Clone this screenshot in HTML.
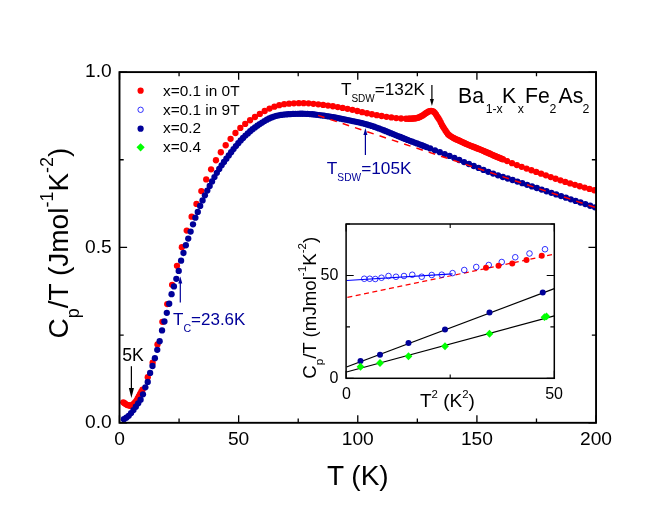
<!DOCTYPE html><html><head><meta charset="utf-8"><title>fig</title><style>html,body{margin:0;padding:0;background:#fff}svg{display:block;will-change:transform}text{font-family:"Liberation Sans",sans-serif}</style></head><body>
<svg width="664" height="528" viewBox="0 0 664 528">
<rect width="664" height="528" fill="#fff"/>
<defs><clipPath id="cm"><rect x="119.5" y="72.1" width="476.55" height="350.70"/></clipPath><clipPath id="ci"><rect x="346.1" y="224" width="208.2" height="154.3"/></clipPath></defs>
<g clip-path="url(#cm)">
<g fill="#ff0000"><circle cx="123.30" cy="402.33" r="3.15"/><circle cx="124.50" cy="403.20" r="3.15"/><circle cx="125.70" cy="404.10" r="3.15"/><circle cx="126.90" cy="404.81" r="3.15"/><circle cx="128.10" cy="405.15" r="3.15"/><circle cx="129.30" cy="405.48" r="3.15"/><circle cx="130.50" cy="405.82" r="3.15"/><circle cx="131.70" cy="405.33" r="3.15"/><circle cx="132.90" cy="404.58" r="3.15"/><circle cx="134.10" cy="403.48" r="3.15"/><circle cx="135.30" cy="402.04" r="3.15"/><circle cx="136.50" cy="400.60" r="3.15"/><circle cx="137.70" cy="398.33" r="3.15"/><circle cx="138.90" cy="396.05" r="3.15"/><circle cx="140.10" cy="393.78" r="3.15"/><circle cx="141.30" cy="391.72" r="3.15"/><circle cx="142.50" cy="389.71" r="3.15"/><circle cx="147.75" cy="377.25" r="3.15"/><circle cx="152.62" cy="362.63" r="3.15"/><circle cx="157.49" cy="344.42" r="3.15"/><circle cx="162.37" cy="321.85" r="3.15"/><circle cx="167.24" cy="304.06" r="3.15"/><circle cx="172.11" cy="284.82" r="3.15"/><circle cx="176.98" cy="265.82" r="3.15"/><circle cx="181.85" cy="247.14" r="3.15"/><circle cx="186.73" cy="230.60" r="3.15"/><circle cx="191.60" cy="216.68" r="3.15"/><circle cx="196.47" cy="203.89" r="3.15"/><circle cx="201.34" cy="191.10" r="3.15"/><circle cx="206.21" cy="179.47" r="3.15"/><circle cx="211.09" cy="169.28" r="3.15"/><circle cx="215.96" cy="160.23" r="3.15"/><circle cx="220.83" cy="152.25" r="3.15"/><circle cx="225.70" cy="145.25" r="3.15"/><circle cx="230.57" cy="138.83" r="3.15"/><circle cx="235.45" cy="132.98" r="3.15"/><circle cx="240.32" cy="127.94" r="3.15"/><circle cx="245.19" cy="123.88" r="3.15"/><circle cx="250.06" cy="120.24" r="3.15"/><circle cx="254.93" cy="117.01" r="3.15"/><circle cx="259.81" cy="113.89" r="3.15"/><circle cx="264.68" cy="111.02" r="3.15"/><circle cx="269.55" cy="108.62" r="3.15"/><circle cx="274.42" cy="106.69" r="3.15"/><circle cx="279.29" cy="105.17" r="3.15"/><circle cx="284.17" cy="104.20" r="3.15"/><circle cx="289.04" cy="103.66" r="3.15"/><circle cx="293.91" cy="103.37" r="3.15"/><circle cx="298.78" cy="103.18" r="3.15"/><circle cx="303.65" cy="103.16" r="3.15"/><circle cx="308.53" cy="103.36" r="3.15"/><circle cx="313.40" cy="103.78" r="3.15"/><circle cx="318.27" cy="104.34" r="3.15"/><circle cx="323.14" cy="104.96" r="3.15"/><circle cx="328.01" cy="105.57" r="3.15"/><circle cx="332.89" cy="106.27" r="3.15"/><circle cx="337.76" cy="107.07" r="3.15"/><circle cx="342.63" cy="107.96" r="3.15"/><circle cx="347.50" cy="108.85" r="3.15"/><circle cx="352.37" cy="109.80" r="3.15"/><circle cx="357.25" cy="110.98" r="3.15"/><circle cx="362.12" cy="112.22" r="3.15"/><circle cx="366.99" cy="113.25" r="3.15"/><circle cx="371.86" cy="114.24" r="3.15"/><circle cx="376.73" cy="115.14" r="3.15"/><circle cx="381.61" cy="116.00" r="3.15"/><circle cx="386.48" cy="116.78" r="3.15"/><circle cx="391.35" cy="117.44" r="3.15"/><circle cx="396.22" cy="118.05" r="3.15"/><circle cx="401.09" cy="118.48" r="3.15"/><circle cx="405.97" cy="118.75" r="3.15"/><circle cx="408.37" cy="118.76" r="3.15"/><circle cx="409.57" cy="118.72" r="3.15"/><circle cx="410.77" cy="118.66" r="3.15"/><circle cx="411.97" cy="118.58" r="3.15"/><circle cx="413.17" cy="118.51" r="3.15"/><circle cx="414.37" cy="118.43" r="3.15"/><circle cx="415.57" cy="118.32" r="3.15"/><circle cx="416.77" cy="118.09" r="3.15"/><circle cx="417.97" cy="117.70" r="3.15"/><circle cx="419.17" cy="117.28" r="3.15"/><circle cx="420.37" cy="116.76" r="3.15"/><circle cx="421.57" cy="116.11" r="3.15"/><circle cx="422.77" cy="115.38" r="3.15"/><circle cx="423.97" cy="114.54" r="3.15"/><circle cx="425.17" cy="113.70" r="3.15"/><circle cx="426.37" cy="112.88" r="3.15"/><circle cx="427.57" cy="112.12" r="3.15"/><circle cx="428.77" cy="111.49" r="3.15"/><circle cx="429.97" cy="111.04" r="3.15"/><circle cx="431.17" cy="110.87" r="3.15"/><circle cx="432.37" cy="111.09" r="3.15"/><circle cx="433.57" cy="111.72" r="3.15"/><circle cx="434.77" cy="112.80" r="3.15"/><circle cx="435.97" cy="114.46" r="3.15"/><circle cx="437.17" cy="116.39" r="3.15"/><circle cx="438.37" cy="118.20" r="3.15"/><circle cx="439.57" cy="120.03" r="3.15"/><circle cx="440.77" cy="122.41" r="3.15"/><circle cx="441.97" cy="124.89" r="3.15"/><circle cx="443.17" cy="126.95" r="3.15"/><circle cx="444.37" cy="128.86" r="3.15"/><circle cx="445.57" cy="130.67" r="3.15"/><circle cx="446.77" cy="132.38" r="3.15"/><circle cx="447.97" cy="134.13" r="3.15"/><circle cx="449.17" cy="135.13" r="3.15"/><circle cx="450.37" cy="136.03" r="3.15"/><circle cx="451.57" cy="136.82" r="3.15"/><circle cx="452.77" cy="137.56" r="3.15"/><circle cx="453.97" cy="138.23" r="3.15"/><circle cx="455.17" cy="138.84" r="3.15"/><circle cx="456.37" cy="139.42" r="3.15"/><circle cx="457.57" cy="139.95" r="3.15"/><circle cx="458.77" cy="140.47" r="3.15"/><circle cx="459.97" cy="140.99" r="3.15"/><circle cx="461.17" cy="141.56" r="3.15"/><circle cx="462.37" cy="142.12" r="3.15"/><circle cx="463.57" cy="142.69" r="3.15"/><circle cx="464.77" cy="143.25" r="3.15"/><circle cx="465.97" cy="143.81" r="3.15"/><circle cx="467.17" cy="144.31" r="3.15"/><circle cx="468.37" cy="144.80" r="3.15"/><circle cx="469.57" cy="145.30" r="3.15"/><circle cx="470.77" cy="145.80" r="3.15"/><circle cx="471.97" cy="146.30" r="3.15"/><circle cx="473.17" cy="146.76" r="3.15"/><circle cx="474.37" cy="147.22" r="3.15"/><circle cx="475.57" cy="147.69" r="3.15"/><circle cx="476.77" cy="148.16" r="3.15"/><circle cx="477.97" cy="148.63" r="3.15"/><circle cx="479.17" cy="149.12" r="3.15"/><circle cx="480.37" cy="149.62" r="3.15"/><circle cx="481.57" cy="150.11" r="3.15"/><circle cx="482.77" cy="150.61" r="3.15"/><circle cx="483.97" cy="151.11" r="3.15"/><circle cx="485.17" cy="151.64" r="3.15"/><circle cx="486.37" cy="152.17" r="3.15"/><circle cx="487.57" cy="152.71" r="3.15"/><circle cx="488.77" cy="153.24" r="3.15"/><circle cx="489.97" cy="153.76" r="3.15"/><circle cx="491.17" cy="154.32" r="3.15"/><circle cx="492.37" cy="154.86" r="3.15"/><circle cx="493.57" cy="155.39" r="3.15"/><circle cx="494.77" cy="155.90" r="3.15"/><circle cx="495.97" cy="156.40" r="3.15"/><circle cx="497.17" cy="156.91" r="3.15"/><circle cx="498.37" cy="157.41" r="3.15"/><circle cx="499.57" cy="157.91" r="3.15"/><circle cx="500.77" cy="158.41" r="3.15"/><circle cx="501.97" cy="158.91" r="3.15"/><circle cx="503.17" cy="159.41" r="3.15"/><circle cx="507.17" cy="161.08" r="3.15"/><circle cx="512.01" cy="163.17" r="3.15"/><circle cx="516.85" cy="165.12" r="3.15"/><circle cx="521.69" cy="166.85" r="3.15"/><circle cx="526.53" cy="168.56" r="3.15"/><circle cx="531.37" cy="170.26" r="3.15"/><circle cx="536.21" cy="171.96" r="3.15"/><circle cx="541.05" cy="173.67" r="3.15"/><circle cx="545.89" cy="175.37" r="3.15"/><circle cx="550.73" cy="177.07" r="3.15"/><circle cx="555.57" cy="178.73" r="3.15"/><circle cx="560.41" cy="180.36" r="3.15"/><circle cx="565.25" cy="181.94" r="3.15"/><circle cx="570.09" cy="183.40" r="3.15"/><circle cx="574.93" cy="184.83" r="3.15"/><circle cx="579.77" cy="186.23" r="3.15"/><circle cx="584.61" cy="187.59" r="3.15"/><circle cx="589.45" cy="188.94" r="3.15"/><circle cx="594.29" cy="190.27" r="3.15"/><circle cx="599.13" cy="191.47" r="3.15"/></g>
<g fill="#000099"><circle cx="123.91" cy="419.22" r="3.15"/><circle cx="126.29" cy="417.72" r="3.15"/><circle cx="128.67" cy="415.78" r="3.15"/><circle cx="131.06" cy="413.05" r="3.15"/><circle cx="133.44" cy="410.07" r="3.15"/><circle cx="135.82" cy="406.75" r="3.15"/><circle cx="138.20" cy="403.28" r="3.15"/><circle cx="140.59" cy="399.73" r="3.15"/><circle cx="142.97" cy="394.30" r="3.15"/><circle cx="145.35" cy="387.30" r="3.15"/><circle cx="147.74" cy="381.93" r="3.15"/><circle cx="150.12" cy="372.93" r="3.15"/><circle cx="152.50" cy="366.00" r="3.15"/><circle cx="154.88" cy="358.13" r="3.15"/><circle cx="157.27" cy="349.82" r="3.15"/><circle cx="159.65" cy="341.23" r="3.15"/><circle cx="162.03" cy="330.38" r="3.15"/><circle cx="164.41" cy="321.49" r="3.15"/><circle cx="166.80" cy="312.82" r="3.15"/><circle cx="169.18" cy="303.76" r="3.15"/><circle cx="171.56" cy="294.22" r="3.15"/><circle cx="173.95" cy="286.38" r="3.15"/><circle cx="176.33" cy="278.80" r="3.15"/><circle cx="178.71" cy="270.88" r="3.15"/><circle cx="181.09" cy="260.70" r="3.15"/><circle cx="183.48" cy="252.99" r="3.15"/><circle cx="185.86" cy="245.24" r="3.15"/><circle cx="188.24" cy="238.55" r="3.15"/><circle cx="190.63" cy="231.61" r="3.15"/><circle cx="193.01" cy="224.28" r="3.15"/><circle cx="195.39" cy="217.66" r="3.15"/><circle cx="197.77" cy="211.94" r="3.15"/><circle cx="200.16" cy="205.95" r="3.15"/><circle cx="202.54" cy="200.43" r="3.15"/><circle cx="204.92" cy="195.37" r="3.15"/><circle cx="207.30" cy="190.62" r="3.15"/><circle cx="209.69" cy="186.01" r="3.15"/><circle cx="212.07" cy="181.46" r="3.15"/><circle cx="214.45" cy="177.04" r="3.15"/><circle cx="216.84" cy="172.85" r="3.15"/><circle cx="219.22" cy="168.92" r="3.15"/><circle cx="221.60" cy="165.28" r="3.15"/><circle cx="223.98" cy="161.90" r="3.15"/><circle cx="226.37" cy="158.66" r="3.15"/><circle cx="228.75" cy="155.43" r="3.15"/><circle cx="231.13" cy="152.23" r="3.15"/><circle cx="233.51" cy="149.07" r="3.15"/><circle cx="235.90" cy="146.03" r="3.15"/><circle cx="238.28" cy="143.15" r="3.15"/><circle cx="240.66" cy="140.47" r="3.15"/><circle cx="243.05" cy="137.98" r="3.15"/><circle cx="245.43" cy="135.62" r="3.15"/><circle cx="247.81" cy="133.38" r="3.15"/><circle cx="250.19" cy="131.26" r="3.15"/><circle cx="252.58" cy="129.27" r="3.15"/><circle cx="254.96" cy="127.41" r="3.15"/><circle cx="257.34" cy="125.69" r="3.15"/><circle cx="259.72" cy="124.07" r="3.15"/><circle cx="262.11" cy="122.53" r="3.15"/><circle cx="264.49" cy="121.05" r="3.15"/><circle cx="266.87" cy="119.69" r="3.15"/><circle cx="269.26" cy="118.47" r="3.15"/><circle cx="271.64" cy="117.41" r="3.15"/><circle cx="274.02" cy="116.53" r="3.15"/><circle cx="276.40" cy="115.85" r="3.15"/><circle cx="278.79" cy="115.31" r="3.15"/><circle cx="281.17" cy="114.92" r="3.15"/><circle cx="283.55" cy="114.62" r="3.15"/><circle cx="285.94" cy="114.39" r="3.15"/><circle cx="288.32" cy="114.21" r="3.15"/><circle cx="290.70" cy="114.06" r="3.15"/><circle cx="293.08" cy="113.94" r="3.15"/><circle cx="295.47" cy="113.85" r="3.15"/><circle cx="297.85" cy="113.78" r="3.15"/><circle cx="300.23" cy="113.74" r="3.15"/><circle cx="302.61" cy="113.75" r="3.15"/><circle cx="305.00" cy="113.80" r="3.15"/><circle cx="307.38" cy="113.92" r="3.15"/><circle cx="309.76" cy="114.07" r="3.15"/><circle cx="312.15" cy="114.27" r="3.15"/><circle cx="314.53" cy="114.51" r="3.15"/><circle cx="316.91" cy="114.78" r="3.15"/><circle cx="319.29" cy="115.07" r="3.15"/><circle cx="321.68" cy="115.38" r="3.15"/><circle cx="324.06" cy="115.70" r="3.15"/><circle cx="326.44" cy="116.05" r="3.15"/><circle cx="328.82" cy="116.43" r="3.15"/><circle cx="331.21" cy="116.84" r="3.15"/><circle cx="333.59" cy="117.27" r="3.15"/><circle cx="335.97" cy="117.72" r="3.15"/><circle cx="338.36" cy="118.18" r="3.15"/><circle cx="340.74" cy="118.65" r="3.15"/><circle cx="343.12" cy="119.13" r="3.15"/><circle cx="345.50" cy="119.61" r="3.15"/><circle cx="347.89" cy="120.11" r="3.15"/><circle cx="350.27" cy="120.61" r="3.15"/><circle cx="352.65" cy="121.10" r="3.15"/><circle cx="355.03" cy="121.58" r="3.15"/><circle cx="357.42" cy="122.05" r="3.15"/><circle cx="359.80" cy="122.56" r="3.15"/><circle cx="362.18" cy="123.16" r="3.15"/><circle cx="364.57" cy="123.82" r="3.15"/><circle cx="366.95" cy="124.50" r="3.15"/><circle cx="369.33" cy="125.20" r="3.15"/><circle cx="371.71" cy="125.93" r="3.15"/><circle cx="374.10" cy="126.73" r="3.15"/><circle cx="376.48" cy="127.59" r="3.15"/><circle cx="378.86" cy="128.47" r="3.15"/><circle cx="381.25" cy="129.36" r="3.15"/><circle cx="383.63" cy="130.26" r="3.15"/><circle cx="386.01" cy="131.19" r="3.15"/><circle cx="388.39" cy="132.15" r="3.15"/><circle cx="390.78" cy="133.13" r="3.15"/><circle cx="393.16" cy="134.11" r="3.15"/><circle cx="395.54" cy="135.09" r="3.15"/><circle cx="397.92" cy="136.06" r="3.15"/><circle cx="400.31" cy="137.02" r="3.15"/><circle cx="402.69" cy="137.98" r="3.15"/><circle cx="405.07" cy="138.93" r="3.15"/><circle cx="407.46" cy="139.88" r="3.15"/><circle cx="409.84" cy="140.81" r="3.15"/><circle cx="412.22" cy="141.71" r="3.15"/><circle cx="414.60" cy="142.59" r="3.15"/><circle cx="416.99" cy="143.47" r="3.15"/><circle cx="419.37" cy="144.35" r="3.15"/><circle cx="421.75" cy="145.24" r="3.15"/><circle cx="424.13" cy="146.15" r="3.15"/><circle cx="426.52" cy="147.07" r="3.15"/><circle cx="430.12" cy="148.44" r="3.15"/><circle cx="434.97" cy="150.29" r="3.15"/><circle cx="439.82" cy="152.15" r="3.15"/><circle cx="444.67" cy="154.03" r="3.15"/><circle cx="449.52" cy="155.94" r="3.15"/><circle cx="454.37" cy="157.95" r="3.15"/><circle cx="459.22" cy="160.01" r="3.15"/><circle cx="464.07" cy="162.03" r="3.15"/><circle cx="468.92" cy="164.02" r="3.15"/><circle cx="473.77" cy="165.99" r="3.15"/><circle cx="478.62" cy="167.95" r="3.15"/><circle cx="483.47" cy="169.89" r="3.15"/><circle cx="488.32" cy="171.78" r="3.15"/><circle cx="493.17" cy="173.59" r="3.15"/><circle cx="498.02" cy="175.35" r="3.15"/><circle cx="502.87" cy="176.98" r="3.15"/><circle cx="507.72" cy="178.50" r="3.15"/><circle cx="512.57" cy="180.02" r="3.15"/><circle cx="517.42" cy="181.58" r="3.15"/><circle cx="522.27" cy="183.18" r="3.15"/><circle cx="527.12" cy="184.79" r="3.15"/><circle cx="531.97" cy="186.40" r="3.15"/><circle cx="536.82" cy="188.01" r="3.15"/><circle cx="541.67" cy="189.62" r="3.15"/><circle cx="546.52" cy="191.23" r="3.15"/><circle cx="551.37" cy="192.84" r="3.15"/><circle cx="556.22" cy="194.45" r="3.15"/><circle cx="561.07" cy="196.07" r="3.15"/><circle cx="565.92" cy="197.68" r="3.15"/><circle cx="570.77" cy="199.29" r="3.15"/><circle cx="575.62" cy="200.90" r="3.15"/><circle cx="580.47" cy="202.51" r="3.15"/><circle cx="585.32" cy="204.12" r="3.15"/><circle cx="590.17" cy="205.73" r="3.15"/><circle cx="595.02" cy="207.33" r="3.15"/><circle cx="599.87" cy="208.64" r="3.15"/></g>
<line x1="318.1" y1="115.40" x2="598" y2="208.33" stroke="#ff0000" stroke-width="1.5" stroke-dasharray="6.75 6.2"/>
</g>
<rect x="119.5" y="72.1" width="476.55" height="350.70" fill="none" stroke="#000" stroke-width="1.9"/>
<path d="M119.50 422.8v-7.6M119.50 72.1v7.6M179.07 422.8v-4.2M179.07 72.1v4.2M238.64 422.8v-7.6M238.64 72.1v7.6M298.21 422.8v-4.2M298.21 72.1v4.2M357.77 422.8v-7.6M357.77 72.1v7.6M417.34 422.8v-4.2M417.34 72.1v4.2M476.91 422.8v-7.6M476.91 72.1v7.6M536.48 422.8v-4.2M536.48 72.1v4.2M596.05 422.8v-7.6M596.05 72.1v7.6M119.5 422.80h7.6M596.05 422.80h-7.6M119.5 335.12h4.2M596.05 335.12h-4.2M119.5 247.45h7.6M596.05 247.45h-7.6M119.5 159.77h4.2M596.05 159.77h-4.2M119.5 72.10h7.6M596.05 72.10h-7.6" stroke="#000" stroke-width="1.3" fill="none"/>
<text x="119.50" y="445.3" font-size="19.2" text-anchor="middle">0</text>
<text x="238.64" y="445.3" font-size="19.2" text-anchor="middle">50</text>
<text x="357.77" y="445.3" font-size="19.2" text-anchor="middle">100</text>
<text x="476.91" y="445.3" font-size="19.2" text-anchor="middle">150</text>
<text x="596.05" y="445.3" font-size="19.2" text-anchor="middle">200</text>
<text x="111.7" y="428.00" font-size="19.2" text-anchor="end">0.0</text>
<text x="111.7" y="252.65" font-size="19.2" text-anchor="end">0.5</text>
<text x="111.7" y="77.30" font-size="19.2" text-anchor="end">1.0</text>
<text x="357.8" y="485.3" font-size="28" text-anchor="middle">T (K)</text>
<text transform="translate(67.8,243) rotate(-90)" font-size="28" text-anchor="middle">C<tspan font-size="18" dy="11">p</tspan><tspan dy="-11">/T (Jmol</tspan><tspan font-size="18" dy="-14.6">-1</tspan><tspan dy="14.6">K</tspan><tspan font-size="18" dy="-14.6">-2</tspan><tspan dy="14.6">)</tspan></text>
<text x="163.0" y="95.7" font-size="15.4">x=0.1 in 0T</text>
<text x="163.0" y="114.5" font-size="15.4">x=0.1 in 9T</text>
<text x="163.0" y="133.3" font-size="15.4">x=0.2</text>
<text x="163.0" y="152.1" font-size="15.4">x=0.4</text>
<circle cx="140.6" cy="90.7" r="3.1" fill="#ff0000"/>
<circle cx="140.6" cy="109.8" r="2.7" fill="#fff" stroke="#0000ff" stroke-width="0.8"/>
<circle cx="140.6" cy="128.7" r="3.1" fill="#000099"/>
<path d="M140.6 143.2l4.1 4.1-4.1 4.1-4.1-4.1z" fill="#00ff00"/>
<text x="340.9" y="95.0" font-size="17.2" fill="#000">T<tspan font-size="10.0" dy="6.6">SDW</tspan><tspan dy="-6.6">=132K</tspan></text>
<text x="326.8" y="173.8" font-size="17.3" fill="#000099">T<tspan font-size="10.2" dy="7.2">SDW</tspan><tspan dy="-7.2">=105K</tspan></text>
<text x="173.0" y="325.1" font-size="17" fill="#000099">T<tspan font-size="10.6" dy="6.6">C</tspan><tspan dy="-6.6">=23.6K</tspan></text>
<text x="122.3" y="361.3" font-size="17.6">5K</text>
<text x="458.06" y="102.6" font-size="21.2">Ba</text>
<text x="501.96" y="102.6" font-size="21.2">K</text>
<text x="524.96" y="102.6" font-size="21.2">Fe</text>
<text x="558.56" y="102.6" font-size="21.2">As</text>
<text x="485.66" y="112.6" font-size="12.3">1-x</text>
<text x="517.76" y="112.6" font-size="12.3">x</text>
<text x="549.48" y="112.6" font-size="12.3">2</text>
<text x="582.58" y="112.6" font-size="12.3">2</text>
<line x1="431.9" y1="85" x2="431.9" y2="101.1" stroke="#000" stroke-width="1.2"/><path d="M431.9 106L429.9 99L433.9 99z" fill="#000"/>
<line x1="365.4" y1="155" x2="365.4" y2="133.0" stroke="#000099" stroke-width="1.2"/><path d="M365.4 128.1L363.4 135.1L367.4 135.1z" fill="#000099"/>
<line x1="180.3" y1="302.5" x2="180.3" y2="281.4" stroke="#000099" stroke-width="1.2"/><path d="M180.3 276.5L178.3 283.5L182.3 283.5z" fill="#000099"/>
<line x1="131.4" y1="366.2" x2="131.4" y2="391.1" stroke="#000" stroke-width="1.25"/><path d="M131.4 398.1L128.85 388.1L133.95000000000002 388.1z" fill="#000"/>
<rect x="346.1" y="224.0" width="208.20" height="154.30" fill="#fff"/>
<g clip-path="url(#ci)">
<line x1="346.5" y1="367" x2="554.3" y2="288.6" stroke="#000" stroke-width="1.25"/>
<line x1="346.5" y1="372" x2="554.3" y2="315.9" stroke="#000" stroke-width="1.25"/>
<line x1="346.5" y1="297.5" x2="554.3" y2="254.2" stroke="#ff0000" stroke-width="1.25" stroke-dasharray="5 3.5" stroke-dashoffset="-0.9"/>
<line x1="346.5" y1="280.5" x2="452.5" y2="273.8" stroke="#0000ff" stroke-width="1.25"/>
</g>
<g fill="none" stroke="#0000ff" stroke-width="0.8"><circle cx="364.25" cy="278.75" r="2.8"/><circle cx="369.75" cy="278.75" r="2.8"/><circle cx="375.25" cy="279" r="2.8"/><circle cx="381.5" cy="277.75" r="2.8"/><circle cx="388.5" cy="276" r="2.8"/><circle cx="396" cy="276.75" r="2.8"/><circle cx="404" cy="276" r="2.8"/><circle cx="412.25" cy="274.75" r="2.8"/><circle cx="421.75" cy="276.75" r="2.8"/><circle cx="431.75" cy="275" r="2.8"/><circle cx="441.75" cy="274.7" r="2.8"/><circle cx="452.6" cy="273.1" r="2.8"/><circle cx="464.25" cy="270" r="2.8"/><circle cx="476.25" cy="267" r="2.8"/><circle cx="488.75" cy="265" r="2.8"/><circle cx="501.75" cy="262" r="2.8"/><circle cx="515.25" cy="257.25" r="2.8"/><circle cx="529.5" cy="253.5" r="2.8"/><circle cx="545" cy="249.25" r="2.8"/></g>
<g fill="#ff0000"><circle cx="486" cy="267.75" r="3"/><circle cx="498.5" cy="265.75" r="3"/><circle cx="512.25" cy="263.5" r="3"/><circle cx="526.5" cy="260" r="3"/><circle cx="541.75" cy="255.75" r="3"/></g>
<g fill="#000099"><circle cx="360.5" cy="361" r="3"/><circle cx="380" cy="354.75" r="3"/><circle cx="408.5" cy="343" r="3"/><circle cx="445" cy="329.4" r="3"/><circle cx="489.5" cy="312.5" r="3"/><circle cx="542.75" cy="292.5" r="3"/></g>
<g fill="#00ff00"><path d="M360.5 362.85l3.9 3.9-3.9 3.9-3.9-3.9z"/><path d="M380 359.1l3.9 3.9-3.9 3.9-3.9-3.9z"/><path d="M408.5 352.35l3.9 3.9-3.9 3.9-3.9-3.9z"/><path d="M445 342.35l3.9 3.9-3.9 3.9-3.9-3.9z"/><path d="M489.5 329.85l3.9 3.9-3.9 3.9-3.9-3.9z"/><path d="M544.5 313.3l3.9 3.9-3.9 3.9-3.9-3.9z"/><path d="M546.5 312.5l3.9 3.9-3.9 3.9-3.9-3.9z"/></g>
<rect x="346.1" y="224.0" width="208.20" height="154.30" fill="none" stroke="#000" stroke-width="1.5"/>
<path d="M346.10 378.3v-7.6M346.10 224.0v7.6M450.20 378.3v-3.9M450.20 224.0v3.9M554.30 378.3v-7.6M554.30 224.0v7.6M346.1 378.30h7.6M554.3 378.30h-7.6M346.1 326.87h3.9M554.3 326.87h-3.9M346.1 275.43h7.6M554.3 275.43h-7.6M346.1 224.00h3.9M554.3 224.00h-3.9" stroke="#000" stroke-width="1.1" fill="none"/>
<text x="346.4" y="398.5" font-size="16" text-anchor="middle">0</text>
<text x="554.1" y="398.5" font-size="16" text-anchor="middle">50</text>
<text x="338.4" y="383.2" font-size="16" text-anchor="end">0</text>
<text x="338.4" y="280.4" font-size="16" text-anchor="end">50</text>
<text x="420" y="407.1" font-size="19">T<tspan font-size="11.4" dy="-9.3">2</tspan><tspan dy="9.3"> (K</tspan><tspan font-size="11.4" dy="-9.3">2</tspan><tspan dy="9.3">)</tspan></text>
<text transform="translate(316.2,307.8) rotate(-90)" font-size="18.7" text-anchor="middle">C<tspan font-size="11.6" dy="6.4">p</tspan><tspan dy="-6.4">/T (mJmol</tspan><tspan font-size="11.6" dy="-9.8">-1</tspan><tspan dy="9.8">K</tspan><tspan font-size="11.6" dy="-9.8">-2</tspan><tspan dy="9.8">)</tspan></text>
</svg></body></html>
